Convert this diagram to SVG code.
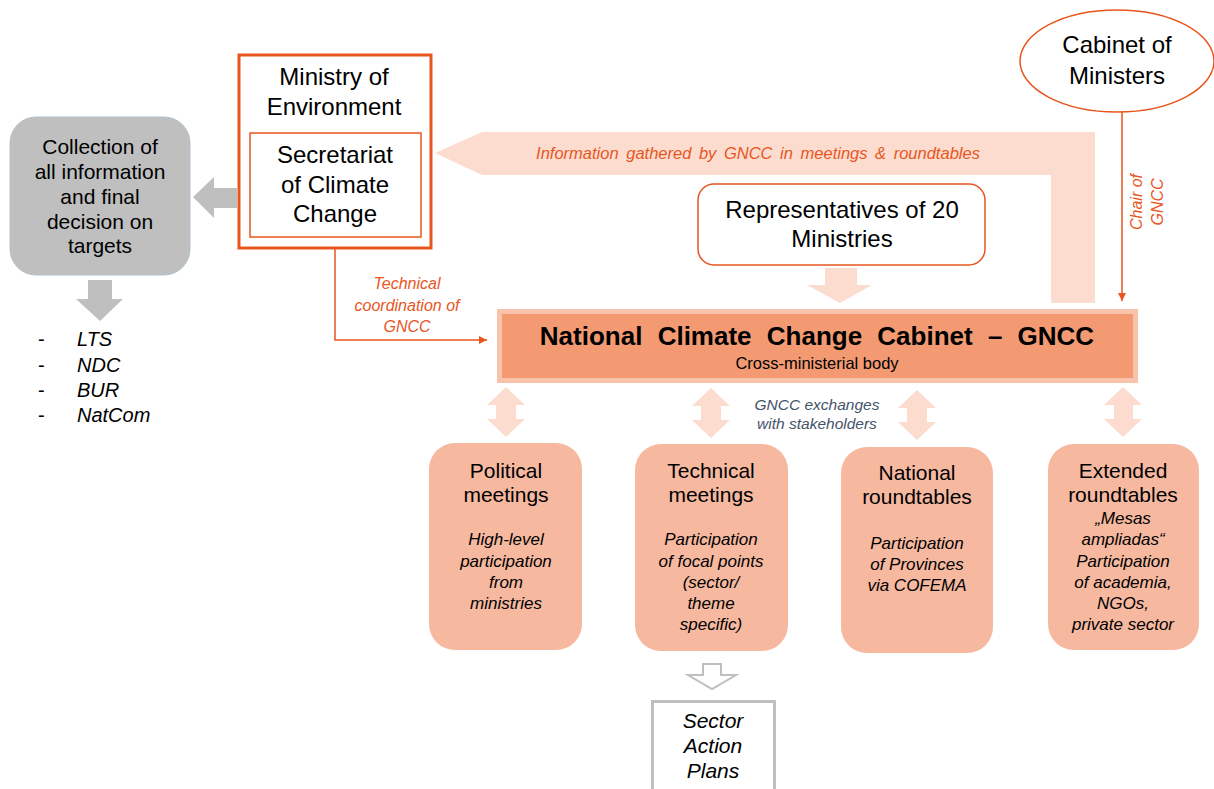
<svg xmlns="http://www.w3.org/2000/svg" width="1214" height="789" viewBox="0 0 1214 789">
<style>
text{font-family:"Liberation Sans",Arial,sans-serif;text-anchor:middle;fill:#000}
.n24{font-size:24px}
.n21{font-size:21px}
.it{font-style:italic;font-size:17px}
.or{font-style:italic;font-size:16px;fill:#E8561E}
.ol{stroke:#E8561E;fill:none;stroke-width:1.5}
.pe{fill:#FBDCCF}
.gr{fill:#BFBFBF}
.bx{fill:#F6B9A0}
</style>
<defs>
<marker id="ah" viewBox="0 0 10 10" refX="10" refY="5" markerWidth="8" markerHeight="8" markerUnits="userSpaceOnUse" orient="auto">
<path d="M0,0 L10,5 L0,10 z" fill="#E8561E"/>
</marker>
</defs>

<g id="connectors">
<path class="pe" d="M435,153 L482,132 L1095,132 L1095,303 L1051,303 L1051,175 L482,175 Z"/>
<text class="or" x="758" y="159" style="font-size:16.5px;word-spacing:3px">Information gathered by GNCC in meetings &amp; roundtables</text>
<path class="gr" d="M193,197 L214,177 L214,188 L237,188 L237,208 L214,208 L214,218 Z"/>
<path class="gr" d="M88,280 L112,280 L112,299 L123,299 L100,321 L76,299 L88,299 Z"/>
<path class="pe" d="M825,268 L857,268 L857,285 L872,285 L840,303 L807,285 L825,285 Z"/>
<path class="ol" d="M335,237 L335,340 L487,340" marker-end="url(#ah)"/>
<text class="or" x="407" y="289">Technical</text>
<text class="or" x="407" y="311">coordination of</text>
<text class="or" x="407" y="332">GNCC</text>
<path class="ol" d="M1122,112 L1122,301" marker-end="url(#ah)"/>
<text class="or" transform="translate(1142,202) rotate(-90)">Chair of</text>
<text class="or" transform="translate(1163,202) rotate(-90)">GNCC</text>
<path class="pe" d="M506,387 L525,405 L516,405 L516,419 L525,419 L506,437 L487,419 L496,419 L496,405 L487,405 Z"/>
<path class="pe" d="M711,388 L730,406 L721,406 L721,420 L730,420 L711,438 L692,420 L701,420 L701,406 L692,406 Z"/>
<path class="pe" d="M917,390 L936,408 L927,408 L927,422 L936,422 L917,440 L898,422 L907,422 L907,408 L898,408 Z"/>
<path class="pe" d="M1123,387 L1142,405 L1133,405 L1133,419 L1142,419 L1123,437 L1104,419 L1114,419 L1114,405 L1104,405 Z"/>
<text x="817" y="410" style="font-style:italic;font-size:15.5px;fill:#44546A">GNCC exchanges</text>
<text x="817" y="429" style="font-style:italic;font-size:15.5px;fill:#44546A">with stakeholders</text>
<path d="M703,664 L721,664 L721,675 L736,675 L712,689 L688,675 L703,675 Z" fill="#fff" stroke="#BFBFBF" stroke-width="2"/>
</g>

<g id="collection">
<rect x="10" y="117" width="180" height="158" rx="26" fill="#BFBFBF" stroke="#AFC3CF" stroke-width="1"/>
<text class="n21" x="100" y="154">Collection of</text>
<text class="n21" x="100" y="179">all information</text>
<text class="n21" x="100" y="204">and final</text>
<text class="n21" x="100" y="229">decision on</text>
<text class="n21" x="100" y="253">targets</text>
</g>

<g id="outputs">
<g style="font-size:20px;text-anchor:start">
<text x="38" y="346" style="text-anchor:start;font-size:20px">-</text>
<text x="38" y="372" style="text-anchor:start;font-size:20px">-</text>
<text x="38" y="397" style="text-anchor:start;font-size:20px">-</text>
<text x="38" y="422" style="text-anchor:start;font-size:20px">-</text>
<text x="77" y="346" style="text-anchor:start;font-size:20px;font-style:italic">LTS</text>
<text x="77" y="372" style="text-anchor:start;font-size:20px;font-style:italic">NDC</text>
<text x="77" y="397" style="text-anchor:start;font-size:20px;font-style:italic">BUR</text>
<text x="77" y="422" style="text-anchor:start;font-size:20px;font-style:italic">NatCom</text>
</g>
</g>

<g id="ministry">
<rect x="239" y="55" width="192" height="193" fill="#fff" stroke="#E8561E" stroke-width="3"/>
<text class="n24" x="334" y="85">Ministry of</text>
<text class="n24" x="334" y="115">Environment</text>
</g>

<g id="secretariat">
<rect x="250" y="133" width="171" height="104" fill="#fff" stroke="#E8561E" stroke-width="1.5"/>
<text class="n24" x="335" y="163">Secretariat</text>
<text class="n24" x="335" y="193">of Climate</text>
<text class="n24" x="335" y="222">Change</text>
</g>

<g id="cabinet">
<ellipse cx="1117" cy="61" rx="97" ry="51" fill="#fff" stroke="#E8561E" stroke-width="1.5"/>
<text class="n24" x="1117" y="53">Cabinet of</text>
<text class="n24" x="1117" y="84">Ministers</text>
</g>

<g id="representatives">
<rect x="698" y="184" width="287" height="81" rx="16" fill="#fff" stroke="#E8561E" stroke-width="1.5"/>
<text class="n24" x="842" y="218">Representatives of 20</text>
<text class="n24" x="842" y="247">Ministries</text>
</g>

<g id="gncc">
<rect x="499.5" y="311.5" width="636" height="69" fill="#F39A72" stroke="#F8C2AB" stroke-width="5"/>
<text x="817" y="345" style="font-weight:bold;font-size:26px;word-spacing:8px">National Climate Change Cabinet – GNCC</text>
<text x="817" y="369" style="font-size:16.5px">Cross-ministerial body</text>
</g>

<g id="political">
<rect class="bx" x="429" y="443" width="153" height="207" rx="26"/>
<text class="n21" x="506" y="478">Political</text>
<text class="n21" x="506" y="502">meetings</text>
<text class="it" x="506" y="545">High-level</text>
<text class="it" x="506" y="567">participation</text>
<text class="it" x="506" y="588">from</text>
<text class="it" x="506" y="609">ministries</text>
</g>

<g id="technical">
<rect class="bx" x="635" y="444" width="153" height="207" rx="26"/>
<text class="n21" x="711" y="478">Technical</text>
<text class="n21" x="711" y="502">meetings</text>
<text class="it" x="711" y="545">Participation</text>
<text class="it" x="711" y="567">of focal points</text>
<text class="it" x="711" y="588">(sector/</text>
<text class="it" x="711" y="609">theme</text>
<text class="it" x="711" y="630">specific)</text>
</g>

<g id="national">
<rect class="bx" x="841" y="447" width="152" height="206" rx="26"/>
<text class="n21" x="917" y="480">National</text>
<text class="n21" x="917" y="504">roundtables</text>
<text class="it" x="917" y="549">Participation</text>
<text class="it" x="917" y="570">of Provinces</text>
<text class="it" x="917" y="591">via COFEMA</text>
</g>

<g id="extended">
<rect class="bx" x="1048" y="444" width="151" height="206" rx="26"/>
<text class="n21" x="1123" y="478">Extended</text>
<text class="n21" x="1123" y="502">roundtables</text>
<text class="it" x="1123" y="524">„Mesas</text>
<text class="it" x="1123" y="545">ampliadas“</text>
<text class="it" x="1123" y="567">Participation</text>
<text class="it" x="1123" y="588">of academia,</text>
<text class="it" x="1123" y="609">NGOs,</text>
<text class="it" x="1123" y="630">private sector</text>
</g>

<g id="sector">
<rect x="652.5" y="701.5" width="122" height="100" fill="#fff" stroke="#BFBFBF" stroke-width="3"/>
<text x="713" y="728" style="font-style:italic;font-size:21px">Sector</text>
<text x="713" y="753" style="font-style:italic;font-size:21px">Action</text>
<text x="713" y="778" style="font-style:italic;font-size:21px">Plans</text>
</g>
</svg>
